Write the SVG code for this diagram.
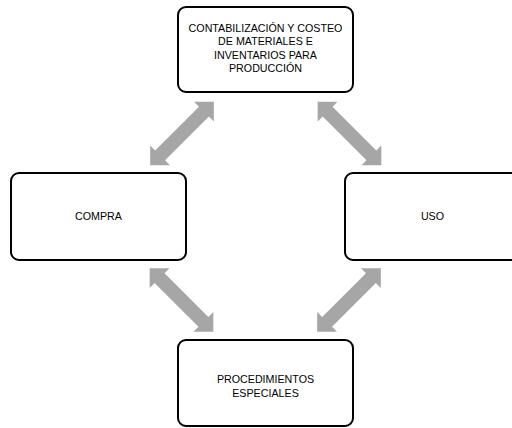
<svg xmlns="http://www.w3.org/2000/svg" width="512" height="428" viewBox="0 0 512 428">
<defs>
<style>
.box{fill:#ffffff;stroke:#000000;stroke-width:2}
.lbl{font-family:"Liberation Sans",Arial,sans-serif;font-size:10.7px;fill:#000000;text-anchor:middle}
.arr{fill:#A6A6A6}
</style>
<path id="dbl" d="M -45 0 L -31 -14 L -31 -7 L 31 -7 L 31 -14 L 45 0 L 31 14 L 31 7 L -31 7 L -31 14 Z"/>
</defs>
<rect width="512" height="428" fill="#ffffff"/>
<g id="connectors" class="arr">
<use href="#dbl" transform="translate(182,133.5) rotate(-45)"/>
<use href="#dbl" transform="translate(349.5,133.5) rotate(45)"/>
<use href="#dbl" transform="translate(181.5,300) rotate(45)"/>
<use href="#dbl" transform="translate(349,300) rotate(-45)"/>
</g>
<g id="node-top">
<rect class="box" x="178" y="7" width="175" height="85" rx="8"/>
<text class="lbl" x="265.5" y="31.5">CONTABILIZACIÓN Y COSTEO</text>
<text class="lbl" x="265.5" y="45">DE MATERIALES E</text>
<text class="lbl" x="265.5" y="58.5">INVENTARIOS PARA</text>
<text class="lbl" x="265.5" y="72">PRODUCCIÓN</text>
</g>
<g id="node-compra">
<rect class="box" x="11" y="173" width="175" height="87" rx="8"/>
<text class="lbl" x="98.5" y="220">COMPRA</text>
</g>
<g id="node-uso">
<rect class="box" x="345" y="173" width="175" height="87" rx="8"/>
<text class="lbl" x="432.5" y="220">USO</text>
</g>
<g id="node-bottom">
<rect class="box" x="178" y="340" width="175" height="86" rx="8"/>
<text class="lbl" x="265.5" y="383">PROCEDIMIENTOS</text>
<text class="lbl" x="265.5" y="396.5">ESPECIALES</text>
</g>
</svg>
